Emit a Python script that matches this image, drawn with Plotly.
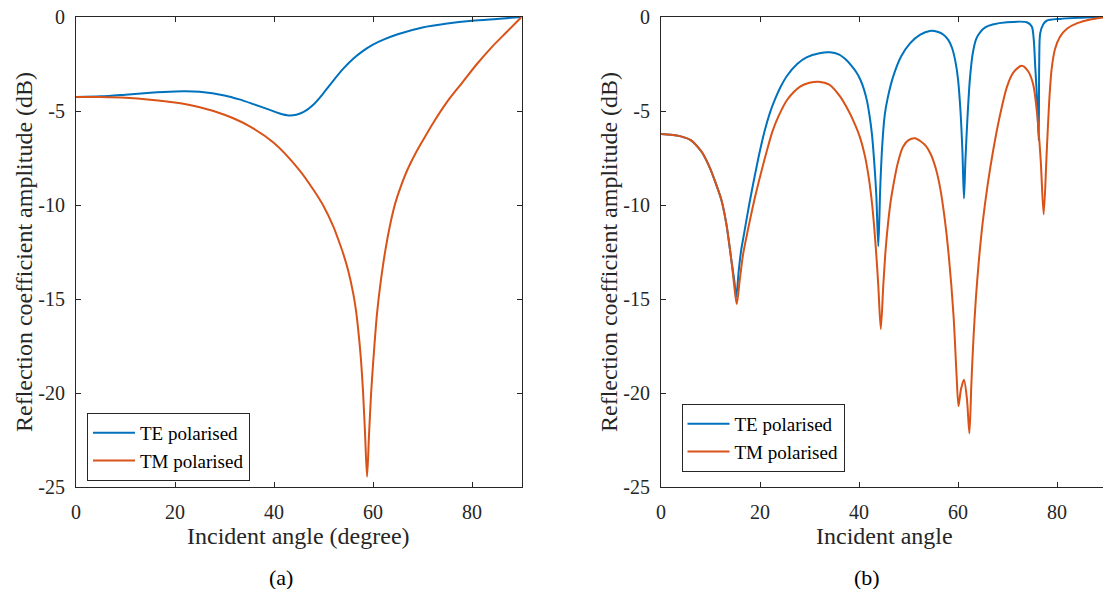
import plotly.graph_objects as go

# ---------------- data: panel (a) ----------------
a_te_x = [0, 5, 10, 15, 20, 22, 25, 30, 33, 36, 39, 41, 43, 44.5, 46, 48, 50, 52, 54, 56, 58,
          60, 62, 65, 70, 75, 80, 85, 90]
a_te_y = [-4.25, -4.22, -4.13, -4.03, -3.96, -3.95, -3.98, -4.17, -4.38, -4.65, -4.93, -5.12,
          -5.24, -5.2, -5.05, -4.65, -4.05, -3.38, -2.75, -2.22, -1.8, -1.47, -1.22, -0.92,
          -0.56, -0.35, -0.2, -0.1, 0.0]

a_tm_x = [0, 5, 10, 15, 20, 25, 30, 35, 40, 45, 48, 50, 52, 53, 54, 55, 56, 56.5, 57, 57.5,
          58, 58.4, 58.8, 59.2, 59.6, 60, 60.8, 61.5, 62.5, 63.5, 64.5, 65.5, 67, 68.5, 70,
          72, 75, 78, 81, 84, 87, 90]
a_tm_y = [-4.25, -4.26, -4.3, -4.4, -4.55, -4.8, -5.2, -5.8, -6.7, -8.1, -9.2, -10.05, -11.15,
          -11.85, -12.6, -13.5, -14.7, -15.5, -16.6, -18.0, -20.0, -22.2, -24.45, -22.2, -20.1,
          -18.5, -15.8, -14.2, -12.4, -11.0, -9.9, -9.1, -8.1, -7.3, -6.6, -5.7, -4.5, -3.5,
          -2.5, -1.6, -0.8, 0.0]

# ---------------- data: panel (b) ----------------
b_te_x = [0, 2, 4, 6, 8, 8.8, 10, 11, 12.2, 13.2, 14.2, 14.8, 15.2, 15.7, 16.2, 16.8, 17.8,
          18.9, 20, 21, 22, 23, 24.2, 25.4, 27.5, 29.4, 32, 34.1, 36, 37.5, 38.5, 39.5, 40.3,
          41, 41.6, 42.1, 42.6, 43.1, 43.5, 43.9, 44.3, 44.7, 45.2, 45.8, 46.9, 48.5, 50.3,
          52.3, 54.3, 56, 57, 58, 58.8, 59.5, 60, 60.5, 60.9, 61.2, 61.5, 61.9, 62.4, 63,
          63.7, 64.5, 65.5, 67, 69.9, 73.9, 74.9, 75.3, 75.6, 76.0, 76.3, 76.4, 76.6, 77.2,
          77.9, 80.6, 85, 90]
b_te_y = [-6.22, -6.26, -6.35, -6.55, -7.1, -7.43, -8.1, -8.8, -9.73, -11.0, -12.9, -14.0,
          -14.88, -13.5, -12.4, -11.5, -10.0, -8.5, -7.1, -6.0, -5.1, -4.4, -3.7, -3.15, -2.5,
          -2.15, -1.93, -1.88, -2.0, -2.3, -2.6, -2.95, -3.35, -3.85, -4.45, -5.2, -6.2, -7.8,
          -9.5, -12.2, -9.0, -6.8, -5.2, -4.3, -3.17, -2.1, -1.4, -0.95, -0.74, -0.8, -0.93,
          -1.2, -1.65, -2.4, -3.3, -5.0, -7.2, -9.65, -7.6, -5.4, -3.3, -1.9, -1.15, -0.8,
          -0.55, -0.4, -0.28, -0.28, -0.51, -1.2, -2.64, -4.5, -6.55, -2.5, -0.87, -0.4, -0.2,
          -0.1, -0.04, 0.0]

b_tm_x = [0, 2, 4, 6, 8, 8.8, 10, 11, 12.2, 13.2, 14.2, 14.8, 15.3, 15.9, 16.6, 17.5, 18.8,
          20.2, 21.4, 22.5, 23.7, 25.5, 28.1, 30, 31.8, 34, 36.2, 37.8, 39, 40.2, 41.2, 42,
          42.7, 43.4, 43.9, 44.4, 44.9, 45.4, 45.9, 46.4, 46.9, 47.8, 48.9, 50, 51.3, 52.5,
          53.5, 54.5, 55.5, 56.4, 57.3, 58.1, 59.1, 59.7, 60.1, 60.6, 61.2, 61.8, 62.3, 62.7,
          63.1, 63.6, 64.2, 65, 66, 67.1, 68.5, 69.9, 71.2, 72.9, 74.2, 75.2, 76, 76.7, 77.3,
          77.9, 78.4, 78.9, 79.6, 80.6, 82, 84, 87, 90]
b_tm_y = [-6.22, -6.26, -6.35, -6.55, -7.1, -7.43, -8.1, -8.8, -9.73, -11.0, -12.9, -14.3,
          -15.27, -14.0, -12.6, -11.4, -9.8, -8.3, -7.1, -6.1, -5.3, -4.4, -3.7, -3.5, -3.44,
          -3.6, -4.24, -4.95, -5.6, -6.4, -7.4, -8.6, -10.1, -12.3, -14.3, -16.6, -14.3,
          -12.3, -10.9, -9.8, -9.0, -7.8, -6.9, -6.55, -6.45, -6.62, -6.85, -7.3, -8.05, -9.1,
          -10.7, -12.6, -15.9, -19.0, -20.7, -19.8, -19.3, -20.3, -22.15, -19.5, -17.2, -15.0,
          -13.0, -10.9, -8.9, -7.1, -5.2, -3.7, -2.95, -2.59, -2.9, -3.6, -5.2, -7.6, -10.5,
          -7.3, -4.6, -2.8, -1.7, -1.05, -0.62, -0.34, -0.12, 0.0]

x_ticks = [0, 20, 40, 60, 80]
y_ticks = [0, -5, -10, -15, -20, -25]
y_tick_text = ["0", "-5", "-10", "-15", "-20", "-25"]

series_names = ["TE polarised", "TM polarised"]
x_titles = ["Incident angle (degree)", "Incident angle"]
y_title = "Reflection coefficient amplitude (dB)"
panel_labels = ["(a)", "(b)"]

# ---------------- styling ----------------
BLUE = "#0072BD"
ORANGE = "#D95319"
AX = "#262626"
FONT = "Liberation Serif, Times New Roman, serif"
W, H = 1103, 589

LINE = dict(width=2, shape="spline", smoothing=0.8)

fig = go.Figure()
fig.add_trace(go.Scatter(x=a_te_x, y=a_te_y, mode="lines", name=series_names[0],
                         line=dict(color=BLUE, **LINE), xaxis="x", yaxis="y", legend="legend"))
fig.add_trace(go.Scatter(x=a_tm_x, y=a_tm_y, mode="lines", name=series_names[1],
                         line=dict(color=ORANGE, **LINE), xaxis="x", yaxis="y", legend="legend"))
fig.add_trace(go.Scatter(x=b_te_x, y=b_te_y, mode="lines", name=series_names[0],
                         line=dict(color=BLUE, **LINE), xaxis="x2", yaxis="y2", legend="legend2"))
fig.add_trace(go.Scatter(x=b_tm_x, y=b_tm_y, mode="lines", name=series_names[1],
                         line=dict(color=ORANGE, **LINE), xaxis="x2", yaxis="y2", legend="legend2"))

common = dict(showline=True, linecolor=AX, linewidth=1, ticks="inside", ticklen=5,
              tickcolor=AX, showgrid=False, zeroline=False, automargin=False,
              tickfont=dict(family=FONT, size=20, color=AX))

ydom = [1 - 487 / H, 1 - 17 / H]
fig.update_layout(
    template="none",
    width=W, height=H, margin=dict(l=0, r=0, t=0, b=0, pad=0, autoexpand=False),
    paper_bgcolor="white", plot_bgcolor="white",
    font=dict(family=FONT, color=AX),
    xaxis=dict(domain=[76 / W, 521.5 / W], range=[0, 90], tickvals=x_ticks, anchor="y",
               mirror="ticks", ticklabelstandoff=7, **common),
    yaxis=dict(domain=ydom, range=[-25, 0], tickvals=y_ticks, ticktext=y_tick_text,
               anchor="x", mirror="ticks", ticklabelstandoff=6, **common),
    xaxis2=dict(domain=[661 / W, 1.0], range=[0, 89.29], tickvals=x_ticks, anchor="y2",
                mirror="ticks", ticklabelstandoff=7, **common),
    yaxis2=dict(domain=ydom, range=[-25, 0], tickvals=y_ticks, ticktext=y_tick_text,
                anchor="x2", mirror=False, ticklabelstandoff=6, **common),
    legend=dict(x=87 / W, y=1 - 413 / H, xanchor="left", yanchor="top",
                bordercolor=AX, borderwidth=1, bgcolor="white", itemwidth=42,
                font=dict(family=FONT, size=19, color="black"), tracegroupgap=0),
    legend2=dict(x=681.5 / W, y=1 - 404 / H, xanchor="left", yanchor="top",
                 bordercolor=AX, borderwidth=1, bgcolor="white", itemwidth=42,
                 font=dict(family=FONT, size=19, color="black"), tracegroupgap=0),
    showlegend=True,
)

ann = []
ann.append(dict(text=x_titles[0], x=298.5 / W, y=1 - 536 / H, xref="paper", yref="paper",
                showarrow=False, xanchor="center", yanchor="middle",
                font=dict(family=FONT, size=24, color=AX)))
ann.append(dict(text=x_titles[1], x=884 / W, y=1 - 536 / H, xref="paper", yref="paper",
                showarrow=False, xanchor="center", yanchor="middle",
                font=dict(family=FONT, size=24, color=AX)))
for xc in (24, 609):
    ann.append(dict(text=y_title, x=xc / W, y=1 - 252 / H, xref="paper", yref="paper",
                    showarrow=False, xanchor="center", yanchor="middle", textangle=-90,
                    font=dict(family=FONT, size=24, color=AX)))
for lbl, xc in zip(panel_labels, (281, 867)):
    ann.append(dict(text=lbl, x=xc / W, y=1 - 577 / H, xref="paper", yref="paper",
                    showarrow=False, xanchor="center", yanchor="middle",
                    font=dict(family=FONT, size=22, color="black")))
fig.update_layout(annotations=ann)

fig.write_html("out.html")
